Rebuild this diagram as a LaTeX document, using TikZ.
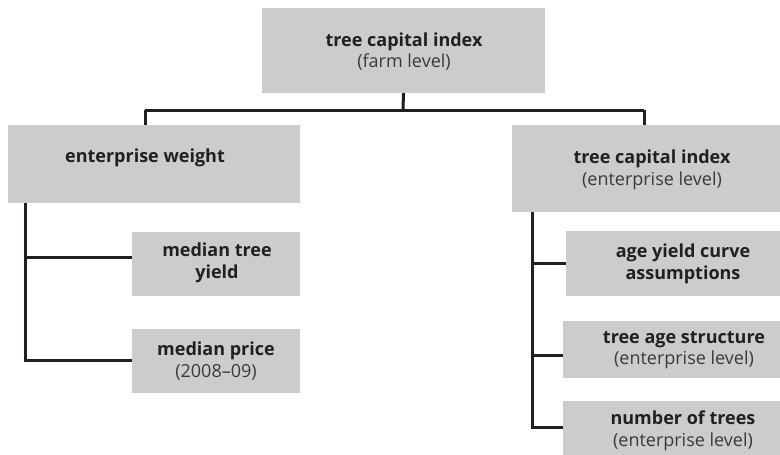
\documentclass[tikz,border=0pt]{standalone}
\usepackage{fontspec}
\setmainfont{Open Sans}
\definecolor{boxgray}{HTML}{CCCCCC}
\definecolor{ink}{HTML}{231F20}
\definecolor{subink}{HTML}{3A3A3A}
\tikzset{
  box/.style={rectangle, fill=boxgray, draw=none, inner sep=0pt},
  lbl/.style={align=center, inner sep=0pt, text=ink, font=\fontsize{18}{21.5}\selectfont},
  conn/.style={draw=ink, line width=3pt},
}
\newcommand{\sub}[1]{{\color{subink}#1}}
\begin{document}
\begin{tikzpicture}[x=1pt,y=-1pt]
\useasboundingbox (0,0) rectangle (780,455);
% boxes
\node[box, minimum width=283pt, minimum height=85pt] (top) at (403.5,50.5) {};
\node[box, minimum width=292pt, minimum height=78pt] (ew) at (154,164) {};
\node[box, minimum width=268pt, minimum height=87pt] (tcie) at (646,168.5) {};
\node[box, minimum width=168pt, minimum height=64pt] (mty) at (216,264) {};
\node[box, minimum width=168pt, minimum height=64pt] (mp) at (216,361) {};
\node[box, minimum width=214pt, minimum height=65pt] (ayc) at (673,263.5) {};
\node[box, minimum width=217pt, minimum height=57pt] (tas) at (671.5,349.5) {};
\node[box, minimum width=217pt, minimum height=54pt] (nt) at (671.5,428) {};
% labels
\node[lbl] (ttop) at (404,51.5) {\textbf{tree capital index}\\\sub{(farm level)}};
\node[lbl] (tew) at (145,158) {\textbf{enterprise weight}};
\node[lbl] (ttcie) at (652,170) {\textbf{tree capital index}\\\sub{(enterprise level)}};
\node[lbl] (tmty) at (217,263) {\textbf{median tree}\\\textbf{yield}};
\node[lbl] (tmp) at (216,361) {\textbf{median price}\\\sub{(2008--09)}};
\node[lbl] (tayc) at (683,264) {\textbf{age yield curve}\\\textbf{assumptions}};
\node[lbl] (ttas) at (684,350) {\textbf{tree age structure}\\\sub{(enterprise level)}};
\node[lbl] (tnt) at (683,431) {\textbf{number of trees}\\\sub{(enterprise level)}};
% connectors
\coordinate (j) at (403,110);
\coordinate (jl) at (145,110);
\coordinate (jr) at (644,110);
\draw[conn] (top.south) -- (j);
\draw[conn] (jl) -- (jr);
\draw[conn] (jl) -- (jl |- ew.north);
\draw[conn] (jr) -- (jr |- tcie.north);
\coordinate (lv) at (25,360);
\draw[conn] (ew.south -| lv) -- (lv) -- (mp.west |- lv);
\draw[conn] ([yshift=7pt]mty.west -| lv) -- ([yshift=7pt]mty.west);
\coordinate (rv) at (532,427);
\draw[conn] (tcie.south -| rv) -- (rv) -- (nt.west |- rv);
\draw[conn] (ayc.west -| rv) -- (ayc.west);
\draw[conn] ([yshift=-6pt]tas.west -| rv) -- ([yshift=-6pt]tas.west);
\end{tikzpicture}
\end{document}
